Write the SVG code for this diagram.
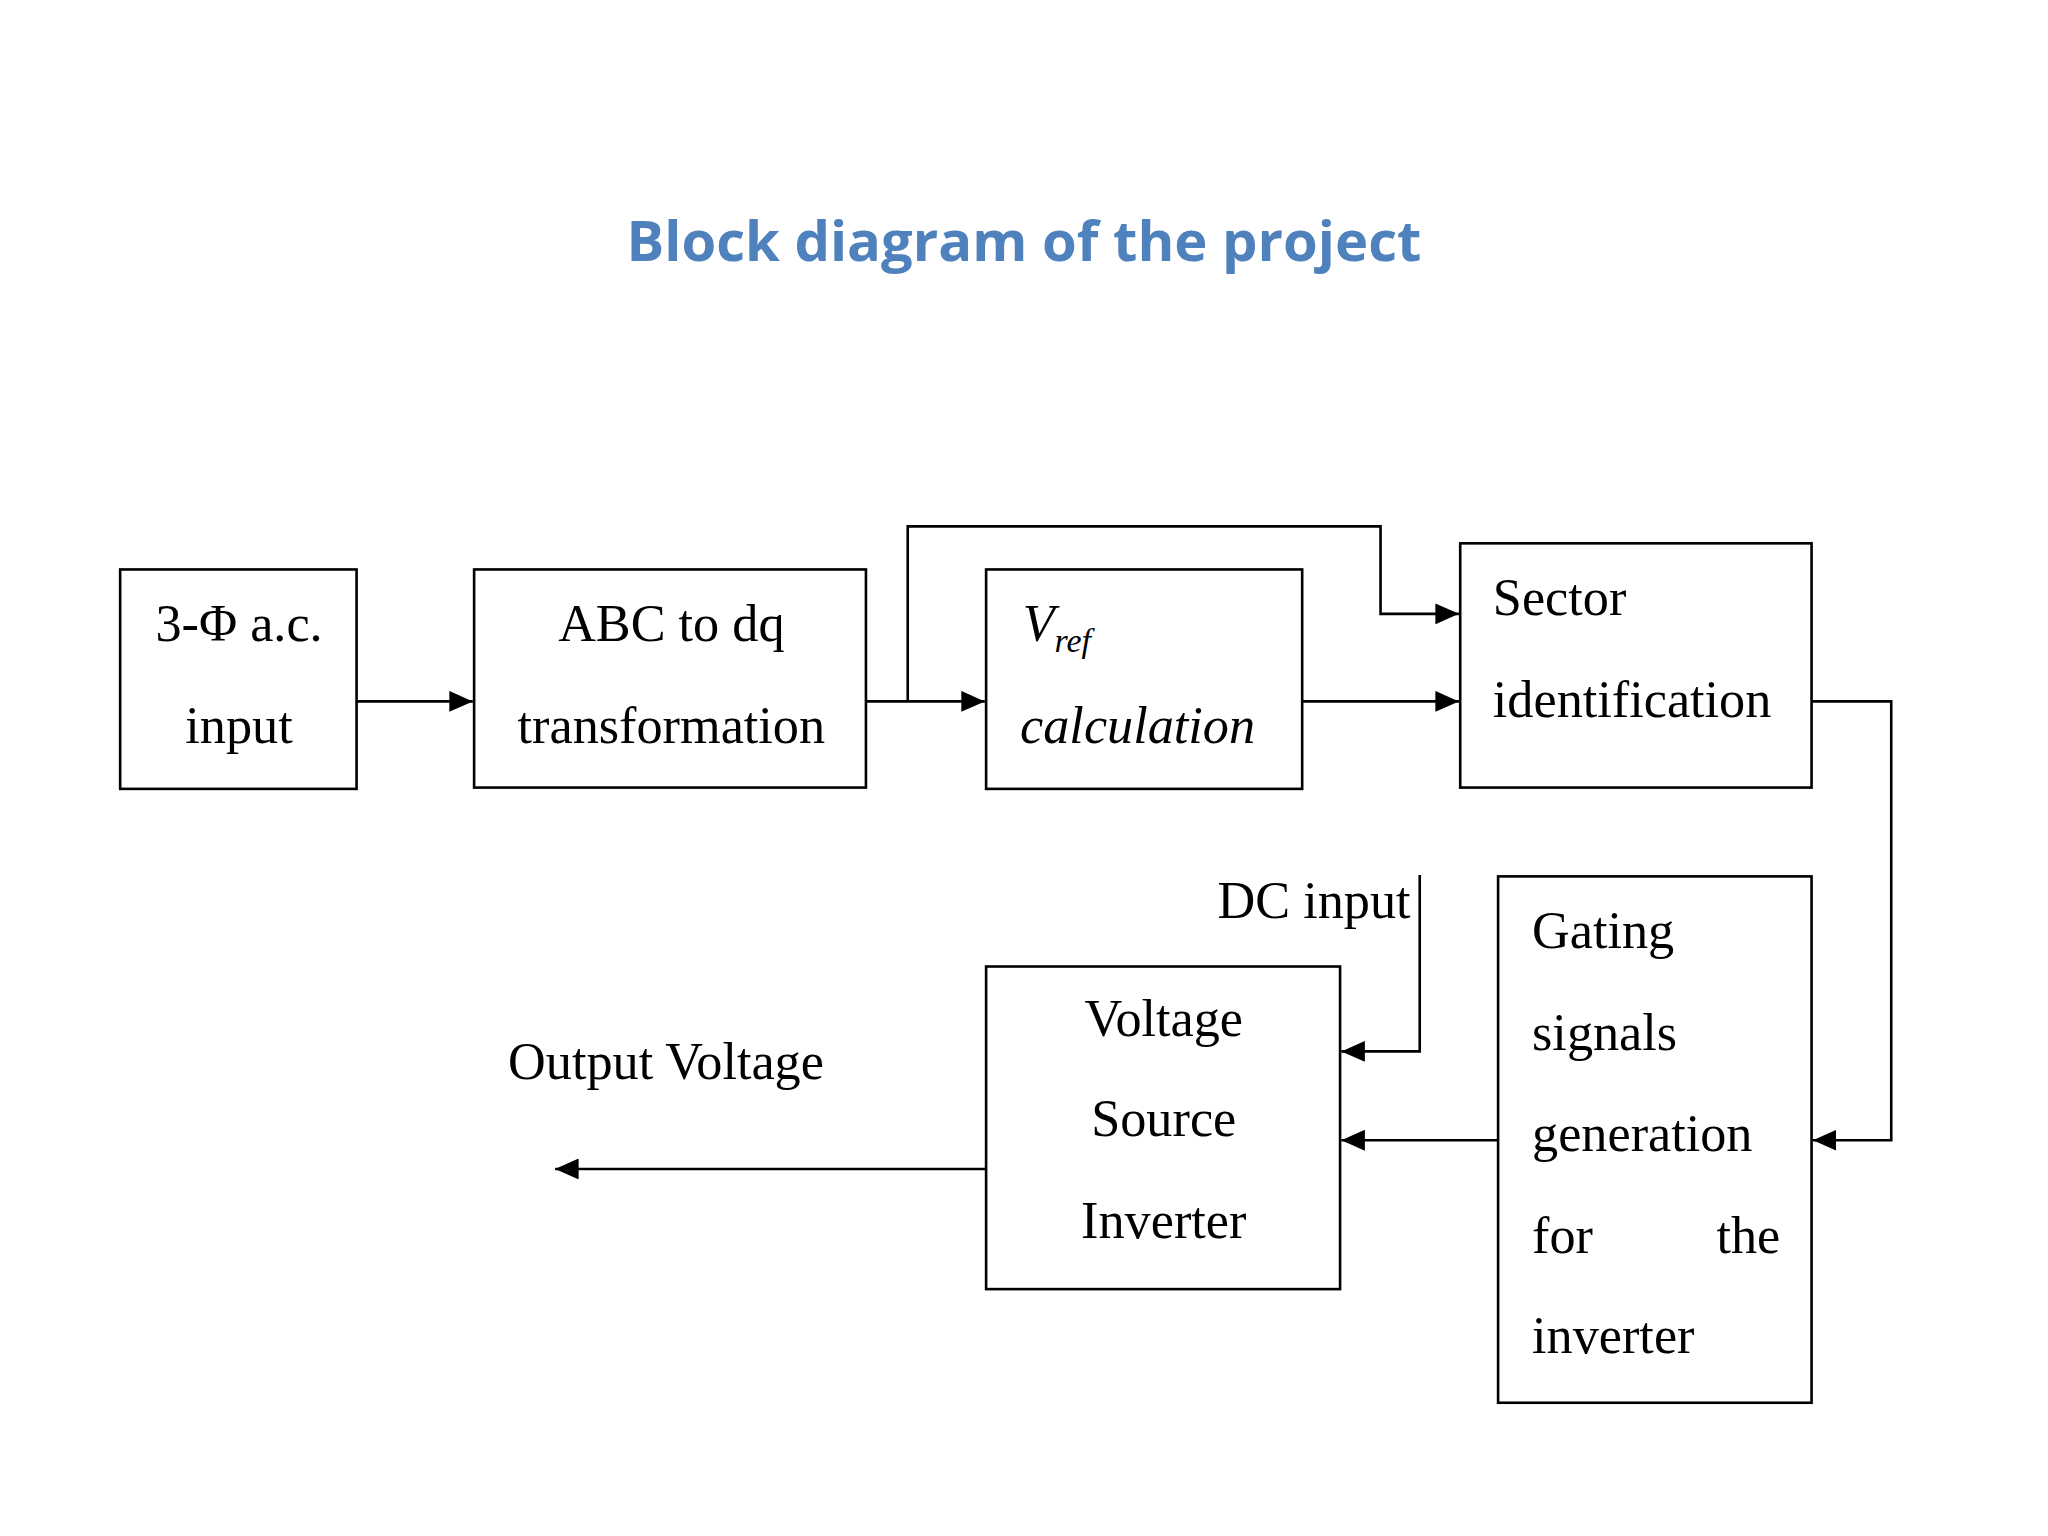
<svg xmlns="http://www.w3.org/2000/svg" width="2048" height="1536" viewBox="0 0 2048 1536">
<style>
.b{fill:#fff;stroke:#000;stroke-width:2}
.t{font-family:"Liberation Serif",serif;font-size:40px;fill:#000}
.i{font-style:italic}
.c{fill:none;stroke:#000;stroke-width:2}
</style>
<defs><marker id="a" markerWidth="18" markerHeight="16" refX="18" refY="8" orient="auto" markerUnits="userSpaceOnUse" viewBox="0 0 18 16"><path d="M0,0L18,8L0,16z" fill="#000"/></marker></defs>
<rect width="2048" height="1536" fill="#fff"/>
<g transform="scale(1.3061)">
<text x="784" y="200" text-anchor="middle" font-family="'Open Sans',sans-serif" font-weight="bold" font-size="43" fill="#4F81BD">Block diagram of the project</text>
<g id="connectors">
<path class="c" marker-end="url(#a)" d="M273,537H362"/>
<path class="c" marker-end="url(#a)" d="M663,537H754"/>
<path class="c" marker-end="url(#a)" d="M695,537V403H1057V470H1117"/>
<path class="c" marker-end="url(#a)" d="M997,537H1117"/>
<path class="c" marker-end="url(#a)" d="M1387,537H1448V873H1388"/>
<path class="c" marker-end="url(#a)" d="M1147,873H1027"/>
<path class="c" marker-end="url(#a)" d="M1087,670V805H1027"/>
<path class="c" marker-end="url(#a)" d="M755,895H425"/>
<text class="t" x="1080" y="703" text-anchor="end">DC input</text>
<text class="t" x="389" y="826">Output Voltage</text>
</g>
<g id="n1"><rect class="b" x="92" y="436" width="181" height="168"/><text class="t" x="183" y="491" text-anchor="middle">3-Φ a.c.</text><text class="t" x="183" y="569" text-anchor="middle">input</text></g>
<g id="n2"><rect class="b" x="363" y="436" width="300" height="167"/><text class="t" x="514" y="491" text-anchor="middle">ABC to dq</text><text class="t" x="514" y="569" text-anchor="middle">transformation</text></g>
<g id="n3"><rect class="b" x="755" y="436" width="242" height="168"/><text class="t i" x="783" y="491">V<tspan font-size="26" dy="8">ref</tspan></text><text class="t i" x="781" y="569">calculation</text></g>
<g id="n4"><rect class="b" x="1118" y="416" width="269" height="187"/><text class="t" x="1143" y="471">Sector</text><text class="t" x="1143" y="549">identification</text></g>
<g id="n5"><rect class="b" x="1147" y="671" width="240" height="403"/><text class="t" x="1173" y="726">Gating</text><text class="t" x="1173" y="804">signals</text><text class="t" x="1173" y="881">generation</text><text class="t" x="1173" y="959">for</text><text class="t" x="1363" y="959" text-anchor="end">the</text><text class="t" x="1173" y="1036">inverter</text></g>
<g id="n6"><rect class="b" x="755" y="740" width="271" height="247"/><text class="t" x="891" y="793" text-anchor="middle">Voltage</text><text class="t" x="891" y="870" text-anchor="middle">Source</text><text class="t" x="891" y="948" text-anchor="middle">Inverter</text></g>
</g>
</svg>
